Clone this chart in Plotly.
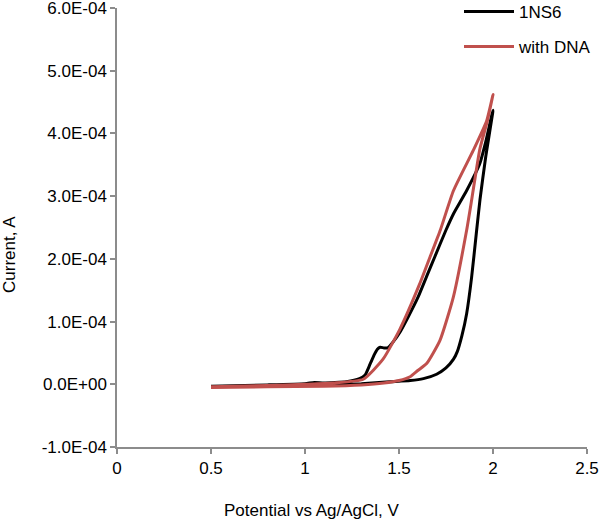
import plotly.graph_objects as go

# ---- data (potential in V, current in A) ----
ns6_potential = [0.5, 0.7, 0.9, 1.1, 1.3, 1.45, 1.56, 1.63, 1.70, 1.75, 1.79, 1.81, 1.835, 1.86, 1.886, 1.911, 1.931, 1.96, 2.0,
                 1.96, 1.93, 1.86, 1.79, 1.75, 1.69, 1.647, 1.60, 1.55, 1.505, 1.47, 1.44, 1.42, 1.40, 1.385, 1.37, 1.346, 1.32, 1.29, 1.22, 1.1, 1.05, 1.0, 0.8, 0.5]
ns6_current = [-0.04e-4, -0.03e-4, -0.02e-4, -0.01e-4, 0.01e-4, 0.04e-4, 0.06e-4, 0.09e-4, 0.16e-4, 0.26e-4, 0.40e-4, 0.52e-4, 0.78e-4, 1.13e-4, 1.70e-4, 2.40e-4, 2.95e-4, 3.6e-4, 4.37e-4,
               3.85e-4, 3.52e-4, 3.09e-4, 2.72e-4, 2.46e-4, 2.03e-4, 1.72e-4, 1.38e-4, 1.08e-4, 0.83e-4, 0.68e-4, 0.58e-4, 0.58e-4, 0.59e-4, 0.56e-4, 0.48e-4, 0.32e-4, 0.15e-4, 0.09e-4, 0.04e-4, 0.02e-4, 0.03e-4, 0.01e-4, -0.01e-4, -0.03e-4]

dna_potential = [0.5, 0.8, 1.1, 1.3, 1.42, 1.50, 1.559, 1.60, 1.647, 1.718, 1.789, 1.86, 1.887, 1.93, 1.97, 2.0,
                 1.966, 1.895, 1.79, 1.72, 1.665, 1.61, 1.505, 1.415, 1.31, 1.15, 1.0, 0.8, 0.5]
dna_current = [-0.05e-4, -0.04e-4, -0.03e-4, -0.01e-4, 0.02e-4, 0.06e-4, 0.12e-4, 0.22e-4, 0.33e-4, 0.70e-4, 1.39e-4, 2.46e-4, 2.95e-4, 3.75e-4, 4.2e-4, 4.62e-4,
               4.2e-4, 3.73e-4, 3.09e-4, 2.46e-4, 2.03e-4, 1.6e-4, 0.88e-4, 0.40e-4, 0.08e-4, 0.02e-4, 0.0, -0.02e-4, -0.04e-4]

x_ticks = [0, 0.5, 1, 1.5, 2, 2.5]
x_tick_labels = ["0", "0.5", "1", "1.5", "2", "2.5"]
y_ticks = [-1e-4, 0, 1e-4, 2e-4, 3e-4, 4e-4, 5e-4, 6e-4]
y_tick_labels = ["-1.0E-04", "0.0E+00", "1.0E-04", "2.0E-04", "3.0E-04", "4.0E-04", "5.0E-04", "6.0E-04"]

FONT = "Liberation Sans, Arial, sans-serif"
FS = 17
AXIS_COLOR = "#8c8c8c"

fig = go.Figure()
fig.add_trace(go.Scatter(x=ns6_potential, y=ns6_current, mode="lines", name="1NS6",
                         line=dict(color="#000000", width=3, shape="spline", smoothing=0.5),
                         legend="legend"))
fig.add_trace(go.Scatter(x=dna_potential, y=dna_current, mode="lines", name="with DNA",
                         line=dict(color="#C0504D", width=3, shape="spline", smoothing=0.5),
                         legend="legend2"))

PL, PR, PT, PB = 117, 587, 8, 447
PW, PH = PR - PL, PB - PT

def px_x(px):
    return (px - PL) / PW

def px_y(py):
    return (PB - py) / PH

legend_common = dict(font=dict(family=FONT, size=FS, color="#000000"),
                     bgcolor="rgba(0,0,0,0)", borderwidth=0,
                     xanchor="left", yanchor="middle", itemwidth=50)
fig.update_layout(
    width=600, height=526,
    margin=dict(l=PL, r=600 - PR, t=PT, b=526 - PB, autoexpand=False),
    paper_bgcolor="white", plot_bgcolor="white",
    font=dict(family=FONT, size=FS, color="#000000"),
    showlegend=True,
    legend=dict(x=px_x(459), y=px_y(12), **legend_common),
    legend2=dict(x=px_x(459), y=px_y(47), **legend_common),
    xaxis=dict(range=[0, 2.5], tickvals=x_ticks, ticktext=x_tick_labels,
               showline=True, linecolor=AXIS_COLOR, linewidth=1.5,
               ticks="outside", ticklen=5, tickcolor=AXIS_COLOR, tickwidth=1.5,
               showgrid=False, zeroline=False, ticklabeloverflow="allow",
               tickfont=dict(family=FONT, size=FS, color="#000000")),
    yaxis=dict(range=[-1.00001e-4, 6.00001e-4], tickvals=y_ticks, ticktext=y_tick_labels,
               showline=True, linecolor=AXIS_COLOR, linewidth=1.5,
               ticks="outside", ticklen=5, tickcolor=AXIS_COLOR, tickwidth=1.5,
               showgrid=False, zeroline=False, ticklabeloverflow="allow",
               tickfont=dict(family=FONT, size=FS, color="#000000")),
    annotations=[
        dict(text="Potential vs Ag/AgCl, V", xref="paper", yref="paper",
             x=px_x(311), y=px_y(510), xanchor="center", yanchor="middle",
             showarrow=False, font=dict(family=FONT, size=FS, color="#000000")),
        dict(text="Current, A", xref="paper", yref="paper",
             x=px_x(9), y=px_y(255), xanchor="center", yanchor="middle",
             textangle=-90, showarrow=False, font=dict(family=FONT, size=FS, color="#000000")),
    ],
)

fig.write_html("out.html", config={"displayModeBar": False},
               post_script="document.body.style.margin='0px';")
